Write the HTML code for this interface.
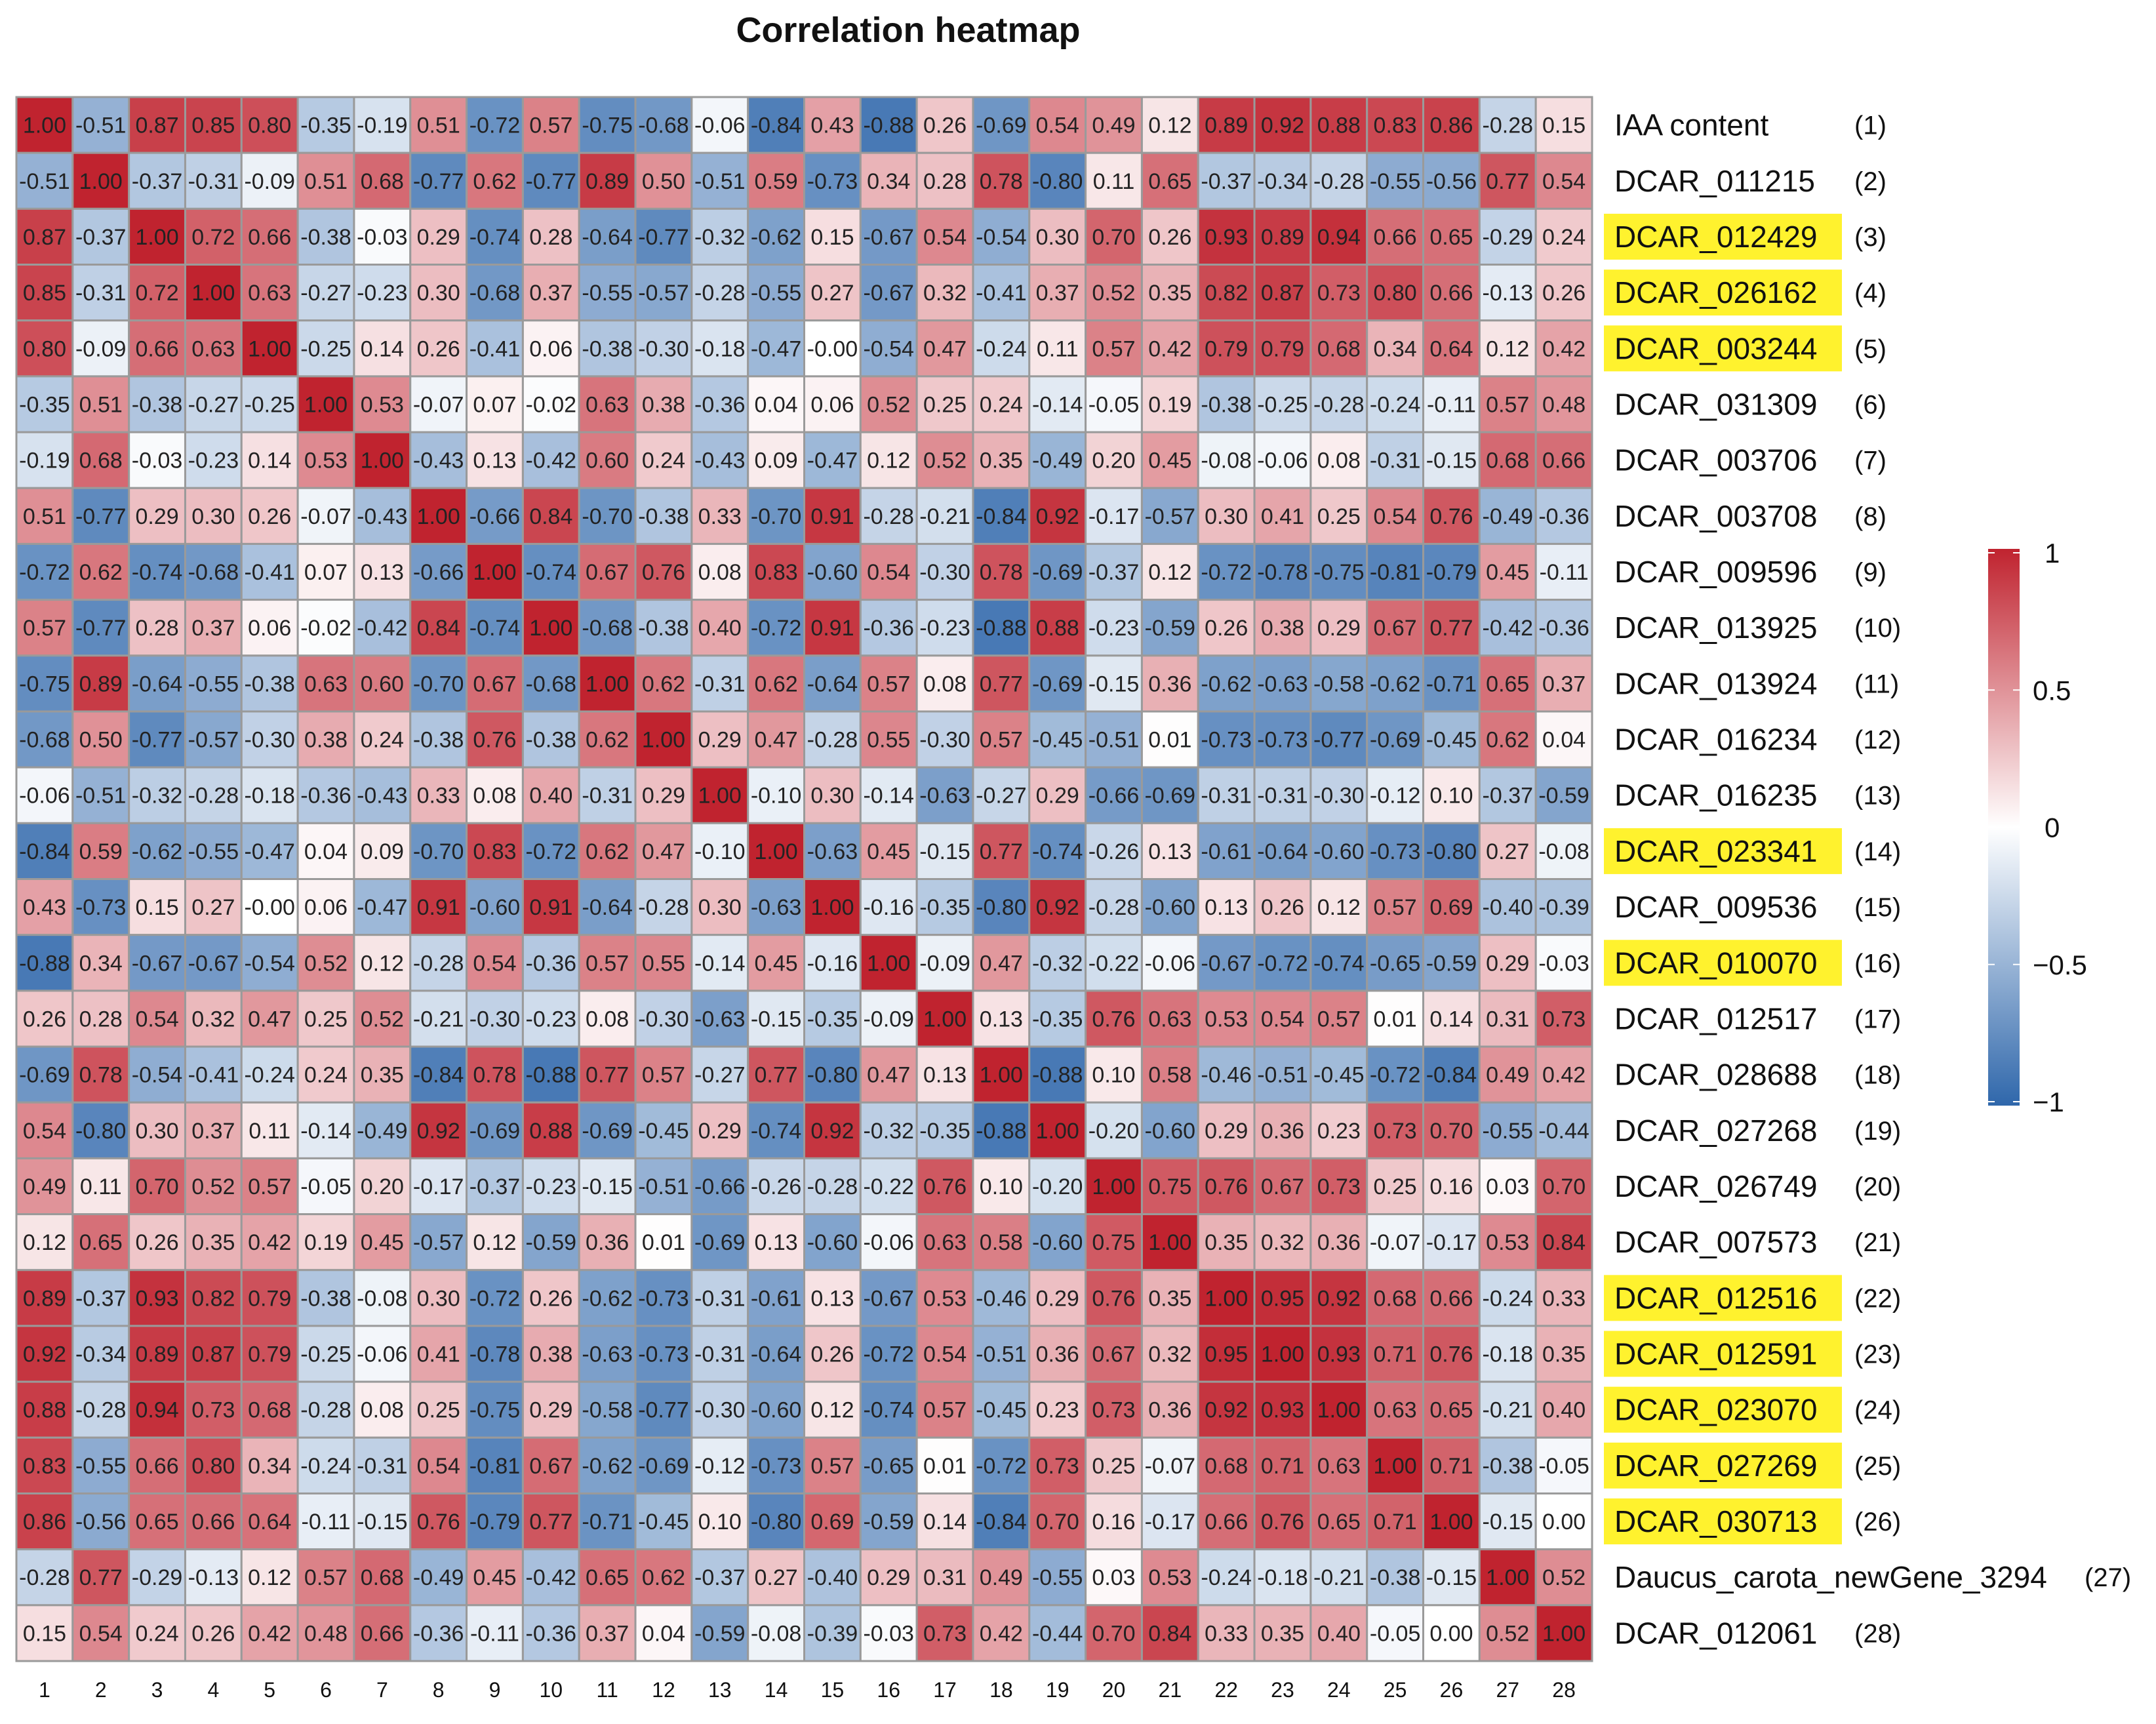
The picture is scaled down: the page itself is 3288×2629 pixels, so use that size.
<!DOCTYPE html>
<html><head><meta charset="utf-8"><style>
html,body{margin:0;padding:0;background:#fff;}
svg{display:block;}
text{font-family:"Liberation Sans",Arial,sans-serif;}
</style></head><body>
<svg id="chart" width="3288" height="2629" viewBox="0 0 3288 2629" xmlns="http://www.w3.org/2000/svg">
<defs><linearGradient id="cbgrad" x1="0" y1="0" x2="0" y2="1">
<stop offset="0" stop-color="rgb(192,35,47)"/><stop offset="0.5" stop-color="#ffffff"/><stop offset="1" stop-color="rgb(47,103,171)"/>
</linearGradient></defs>
<text x="1385" y="64" text-anchor="middle" font-size="54" font-weight="bold" fill="#111">Correlation heatmap</text>
<g id="cells"></g>
<g id="rowlabels"></g>
<g id="collabels"></g>
<g id="legend"></g>
</svg>
<script>
const rowNames = ["IAA  content","DCAR_011215","DCAR_012429","DCAR_026162","DCAR_003244","DCAR_031309","DCAR_003706","DCAR_003708","DCAR_009596","DCAR_013925","DCAR_013924","DCAR_016234","DCAR_016235","DCAR_023341","DCAR_009536","DCAR_010070","DCAR_012517","DCAR_028688","DCAR_027268","DCAR_026749","DCAR_007573","DCAR_012516","DCAR_012591","DCAR_023070","DCAR_027269","DCAR_030713","Daucus_carota_newGene_3294","DCAR_012061"];
const highlighted = [3,4,5,14,16,22,23,24,25,26];
const colLabels = ["1","2","3","4","5","6","7","8","9","10","11","12","13","14","15","16","17","18","19","20","21","22","23","24","25","26","27","28"];
const legendTicks = [1,0.5,0,-0.5,-1];
const legendTickLabels = ["1","0.5","0","\u22120.5","\u22121"];
const m = [
"1.00 -0.51 0.87 0.85 0.80 -0.35 -0.19 0.51 -0.72 0.57 -0.75 -0.68 -0.06 -0.84 0.43 -0.88 0.26 -0.69 0.54 0.49 0.12 0.89 0.92 0.88 0.83 0.86 -0.28 0.15",
"-0.51 1.00 -0.37 -0.31 -0.09 0.51 0.68 -0.77 0.62 -0.77 0.89 0.50 -0.51 0.59 -0.73 0.34 0.28 0.78 -0.80 0.11 0.65 -0.37 -0.34 -0.28 -0.55 -0.56 0.77 0.54",
"0.87 -0.37 1.00 0.72 0.66 -0.38 -0.03 0.29 -0.74 0.28 -0.64 -0.77 -0.32 -0.62 0.15 -0.67 0.54 -0.54 0.30 0.70 0.26 0.93 0.89 0.94 0.66 0.65 -0.29 0.24",
"0.85 -0.31 0.72 1.00 0.63 -0.27 -0.23 0.30 -0.68 0.37 -0.55 -0.57 -0.28 -0.55 0.27 -0.67 0.32 -0.41 0.37 0.52 0.35 0.82 0.87 0.73 0.80 0.66 -0.13 0.26",
"0.80 -0.09 0.66 0.63 1.00 -0.25 0.14 0.26 -0.41 0.06 -0.38 -0.30 -0.18 -0.47 -0.00 -0.54 0.47 -0.24 0.11 0.57 0.42 0.79 0.79 0.68 0.34 0.64 0.12 0.42",
"-0.35 0.51 -0.38 -0.27 -0.25 1.00 0.53 -0.07 0.07 -0.02 0.63 0.38 -0.36 0.04 0.06 0.52 0.25 0.24 -0.14 -0.05 0.19 -0.38 -0.25 -0.28 -0.24 -0.11 0.57 0.48",
"-0.19 0.68 -0.03 -0.23 0.14 0.53 1.00 -0.43 0.13 -0.42 0.60 0.24 -0.43 0.09 -0.47 0.12 0.52 0.35 -0.49 0.20 0.45 -0.08 -0.06 0.08 -0.31 -0.15 0.68 0.66",
"0.51 -0.77 0.29 0.30 0.26 -0.07 -0.43 1.00 -0.66 0.84 -0.70 -0.38 0.33 -0.70 0.91 -0.28 -0.21 -0.84 0.92 -0.17 -0.57 0.30 0.41 0.25 0.54 0.76 -0.49 -0.36",
"-0.72 0.62 -0.74 -0.68 -0.41 0.07 0.13 -0.66 1.00 -0.74 0.67 0.76 0.08 0.83 -0.60 0.54 -0.30 0.78 -0.69 -0.37 0.12 -0.72 -0.78 -0.75 -0.81 -0.79 0.45 -0.11",
"0.57 -0.77 0.28 0.37 0.06 -0.02 -0.42 0.84 -0.74 1.00 -0.68 -0.38 0.40 -0.72 0.91 -0.36 -0.23 -0.88 0.88 -0.23 -0.59 0.26 0.38 0.29 0.67 0.77 -0.42 -0.36",
"-0.75 0.89 -0.64 -0.55 -0.38 0.63 0.60 -0.70 0.67 -0.68 1.00 0.62 -0.31 0.62 -0.64 0.57 0.08 0.77 -0.69 -0.15 0.36 -0.62 -0.63 -0.58 -0.62 -0.71 0.65 0.37",
"-0.68 0.50 -0.77 -0.57 -0.30 0.38 0.24 -0.38 0.76 -0.38 0.62 1.00 0.29 0.47 -0.28 0.55 -0.30 0.57 -0.45 -0.51 0.01 -0.73 -0.73 -0.77 -0.69 -0.45 0.62 0.04",
"-0.06 -0.51 -0.32 -0.28 -0.18 -0.36 -0.43 0.33 0.08 0.40 -0.31 0.29 1.00 -0.10 0.30 -0.14 -0.63 -0.27 0.29 -0.66 -0.69 -0.31 -0.31 -0.30 -0.12 0.10 -0.37 -0.59",
"-0.84 0.59 -0.62 -0.55 -0.47 0.04 0.09 -0.70 0.83 -0.72 0.62 0.47 -0.10 1.00 -0.63 0.45 -0.15 0.77 -0.74 -0.26 0.13 -0.61 -0.64 -0.60 -0.73 -0.80 0.27 -0.08",
"0.43 -0.73 0.15 0.27 -0.00 0.06 -0.47 0.91 -0.60 0.91 -0.64 -0.28 0.30 -0.63 1.00 -0.16 -0.35 -0.80 0.92 -0.28 -0.60 0.13 0.26 0.12 0.57 0.69 -0.40 -0.39",
"-0.88 0.34 -0.67 -0.67 -0.54 0.52 0.12 -0.28 0.54 -0.36 0.57 0.55 -0.14 0.45 -0.16 1.00 -0.09 0.47 -0.32 -0.22 -0.06 -0.67 -0.72 -0.74 -0.65 -0.59 0.29 -0.03",
"0.26 0.28 0.54 0.32 0.47 0.25 0.52 -0.21 -0.30 -0.23 0.08 -0.30 -0.63 -0.15 -0.35 -0.09 1.00 0.13 -0.35 0.76 0.63 0.53 0.54 0.57 0.01 0.14 0.31 0.73",
"-0.69 0.78 -0.54 -0.41 -0.24 0.24 0.35 -0.84 0.78 -0.88 0.77 0.57 -0.27 0.77 -0.80 0.47 0.13 1.00 -0.88 0.10 0.58 -0.46 -0.51 -0.45 -0.72 -0.84 0.49 0.42",
"0.54 -0.80 0.30 0.37 0.11 -0.14 -0.49 0.92 -0.69 0.88 -0.69 -0.45 0.29 -0.74 0.92 -0.32 -0.35 -0.88 1.00 -0.20 -0.60 0.29 0.36 0.23 0.73 0.70 -0.55 -0.44",
"0.49 0.11 0.70 0.52 0.57 -0.05 0.20 -0.17 -0.37 -0.23 -0.15 -0.51 -0.66 -0.26 -0.28 -0.22 0.76 0.10 -0.20 1.00 0.75 0.76 0.67 0.73 0.25 0.16 0.03 0.70",
"0.12 0.65 0.26 0.35 0.42 0.19 0.45 -0.57 0.12 -0.59 0.36 0.01 -0.69 0.13 -0.60 -0.06 0.63 0.58 -0.60 0.75 1.00 0.35 0.32 0.36 -0.07 -0.17 0.53 0.84",
"0.89 -0.37 0.93 0.82 0.79 -0.38 -0.08 0.30 -0.72 0.26 -0.62 -0.73 -0.31 -0.61 0.13 -0.67 0.53 -0.46 0.29 0.76 0.35 1.00 0.95 0.92 0.68 0.66 -0.24 0.33",
"0.92 -0.34 0.89 0.87 0.79 -0.25 -0.06 0.41 -0.78 0.38 -0.63 -0.73 -0.31 -0.64 0.26 -0.72 0.54 -0.51 0.36 0.67 0.32 0.95 1.00 0.93 0.71 0.76 -0.18 0.35",
"0.88 -0.28 0.94 0.73 0.68 -0.28 0.08 0.25 -0.75 0.29 -0.58 -0.77 -0.30 -0.60 0.12 -0.74 0.57 -0.45 0.23 0.73 0.36 0.92 0.93 1.00 0.63 0.65 -0.21 0.40",
"0.83 -0.55 0.66 0.80 0.34 -0.24 -0.31 0.54 -0.81 0.67 -0.62 -0.69 -0.12 -0.73 0.57 -0.65 0.01 -0.72 0.73 0.25 -0.07 0.68 0.71 0.63 1.00 0.71 -0.38 -0.05",
"0.86 -0.56 0.65 0.66 0.64 -0.11 -0.15 0.76 -0.79 0.77 -0.71 -0.45 0.10 -0.80 0.69 -0.59 0.14 -0.84 0.70 0.16 -0.17 0.66 0.76 0.65 0.71 1.00 -0.15 0.00",
"-0.28 0.77 -0.29 -0.13 0.12 0.57 0.68 -0.49 0.45 -0.42 0.65 0.62 -0.37 0.27 -0.40 0.29 0.31 0.49 -0.55 0.03 0.53 -0.24 -0.18 -0.21 -0.38 -0.15 1.00 0.52",
"0.15 0.54 0.24 0.26 0.42 0.48 0.66 -0.36 -0.11 -0.36 0.37 0.04 -0.59 -0.08 -0.39 -0.03 0.73 0.42 -0.44 0.70 0.84 0.33 0.35 0.40 -0.05 0.00 0.52 1.00"
];
const NS="http://www.w3.org/2000/svg";
const X0=25, Y0=148, X1=2428, Y1=2533;
const nC=colLabels.length, nR=rowNames.length;
const cw=(X1-X0)/nC, ch=(Y1-Y0)/nR;
function xPos(j){return X0+j*cw;}
function yPos(i){return Y0+i*ch;}
function color(v){
  const t=Math.max(-1,Math.min(1,v));
  let c;
  if(t>=0){c=[255+(192-255)*t,255+(35-255)*t,255+(47-255)*t];}
  else{const a=-t;c=[255+(47-255)*a,255+(103-255)*a,255+(171-255)*a];}
  return "rgb("+c.map(Math.round).join(",")+")";
}
function mk(tag,attrs,parent){const e=document.createElementNS(NS,tag);for(const k in attrs)e.setAttribute(k,attrs[k]);parent.appendChild(e);return e;}
const gC=document.getElementById("cells");
mk("rect",{x:X0-1,y:Y0-1,width:X1-X0+2,height:Y1-Y0+2,fill:"#9a9a9a"},gC);
for(let i=0;i<nR;i++){
  const vals=m[i].split(" ");
  for(let j=0;j<nC;j++){
    const s=vals[j], v=parseFloat(s);
    const r=mk("rect",{x:xPos(j),y:yPos(i),width:cw,height:ch,fill:color(v),stroke:"#9a9a9a","stroke-width":3},gC);
    
    
    const t=mk("text",{x:xPos(j)+cw/2,y:yPos(i)+ch/2+12,"text-anchor":"middle","font-size":34,fill:"#222"},gC);
    
    
    t.textContent=s;
  }
}
const gR=document.getElementById("rowlabels");
for(let i=0;i<nR;i++){
  const cy=yPos(i)+ch/2;
  if(highlighted.indexOf(i+1)>=0){
    const hb=mk("rect",{x:2446,y:cy-35,width:363,height:70,fill:"#fff22e"},gR);
    
    
  }
  const t=mk("text",{x:2462,y:cy+16,"font-size":46,fill:"#111"},gR);
  
  
  t.textContent=rowNames[i];
  const n=mk("text",{x:(i===26?3179:2828),y:cy+14,"font-size":40,fill:"#111"},gR);
  
  
  n.textContent="("+(i+1)+")";
}
const gX=document.getElementById("collabels");
for(let j=0;j<nC;j++){
  const t=mk("text",{x:xPos(j)+cw/2,y:2588,"text-anchor":"middle","font-size":32,fill:"#111"},gX);
  
  
  t.textContent=colLabels[j];
}
const gL=document.getElementById("legend");
const LX=3032, LW=48, LT=843, LB=1680;
function ly(v){return LT+(1-v)/2*(LB-LT);}
const bar=mk("rect",{x:LX,y:LT-6,width:LW,height:LB-LT+12,fill:"url(#cbgrad)"},gL);


for(let k=0;k<legendTicks.length;k++){
  const y=ly(legendTicks[k]);
  const a=mk("line",{x1:LX,x2:LX+10,y1:y,y2:y,stroke:"#fff","stroke-width":2},gL);
  
  
  const b=mk("line",{x1:LX+LW-10,x2:LX+LW,y1:y,y2:y,stroke:"#fff","stroke-width":2},gL);
  
  
  const t=mk("text",{x:(legendTicks[k]===0||legendTicks[k]===1)?3118:3100,y:y+15,"font-size":42,fill:"#111"},gL);
  
  
  t.textContent=legendTickLabels[k];
}
</script>
</body></html>
